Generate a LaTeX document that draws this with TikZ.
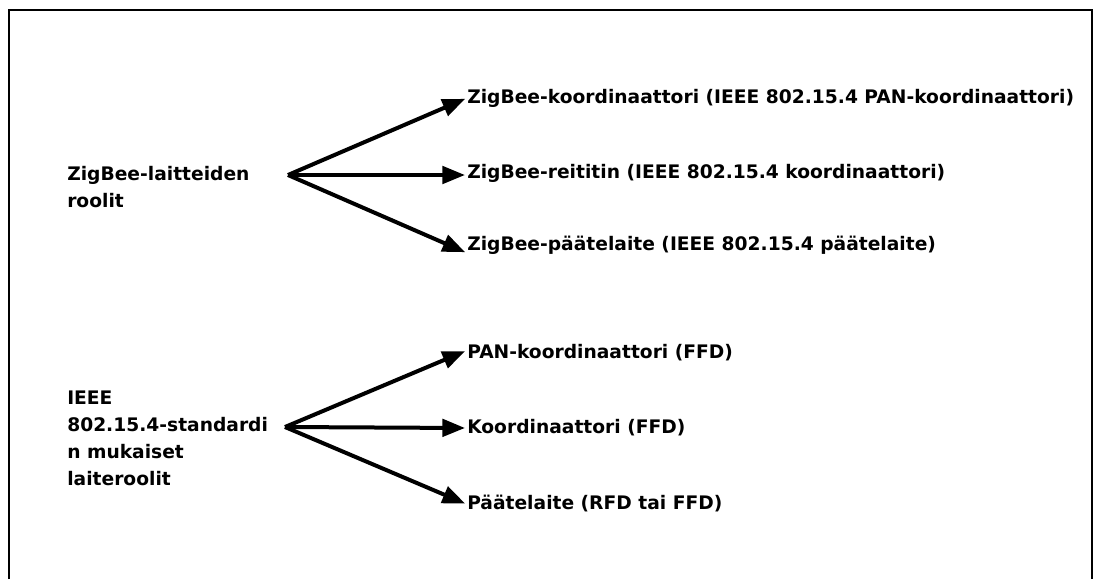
\documentclass[tikz,border=0pt]{standalone}
\usepackage{fontspec}
\setmainfont{DejaVu Sans}
\usetikzlibrary{arrows.meta}

\begin{document}
\begin{tikzpicture}[
  x=0.75pt, y=-0.75pt,
  every node/.style={font=\fontsize{14}{20.25}\selectfont\bfseries, inner sep=0pt},
  role/.style={anchor=west, align=left},
  fan/.style={line width=3pt, shorten >=1.5pt, -{Triangle[length=17pt, width=13pt]}}
]
  \useasboundingbox (0,0) rectangle (1099,579);
  \draw[line width=1.5pt] (8.5,579) -- (8.5,10) -- (1092,10) -- (1092,579);

  % ZigBee device roles
  \node[role] (zbroles) at (67,187) {ZigBee-laitteiden\\roolit};
  \coordinate (zbfan) at (288,175);
  \foreach \nm/\yy/\dy/\lbl in {zbcoord/98/0/ZigBee-koordinaattori (IEEE 802.15.4 PAN-koordinaattori),
      zbrouter/173/-1.5/ZigBee-reititin (IEEE 802.15.4 koordinaattori),
      zbend/245/-6/ZigBee-päätelaite (IEEE 802.15.4 päätelaite)} {
    \node[role] (\nm) at (467,\yy) {\lbl};
    \draw[fan] (zbfan) -- ([yshift=\dy pt]\nm.west);
  }

  % IEEE 802.15.4 device roles
  \node[role] (ieeeroles) at (67,438) {IEEE\\802.15.4-standardi\\n mukaiset\\laiteroolit};
  \coordinate (ieeefan) at (285,427);
  \foreach \nm/\yy/\dy/\lbl in {pancoord/353/2/PAN-koordinaattori (FFD),
      coord/428/0/Koordinaattori (FFD),
      rfd/503/-1/Päätelaite (RFD tai FFD)} {
    \node[role] (\nm) at (467,\yy) {\lbl};
    \draw[fan] (ieeefan) -- ([yshift=\dy pt]\nm.west);
  }
\end{tikzpicture}
\end{document}
